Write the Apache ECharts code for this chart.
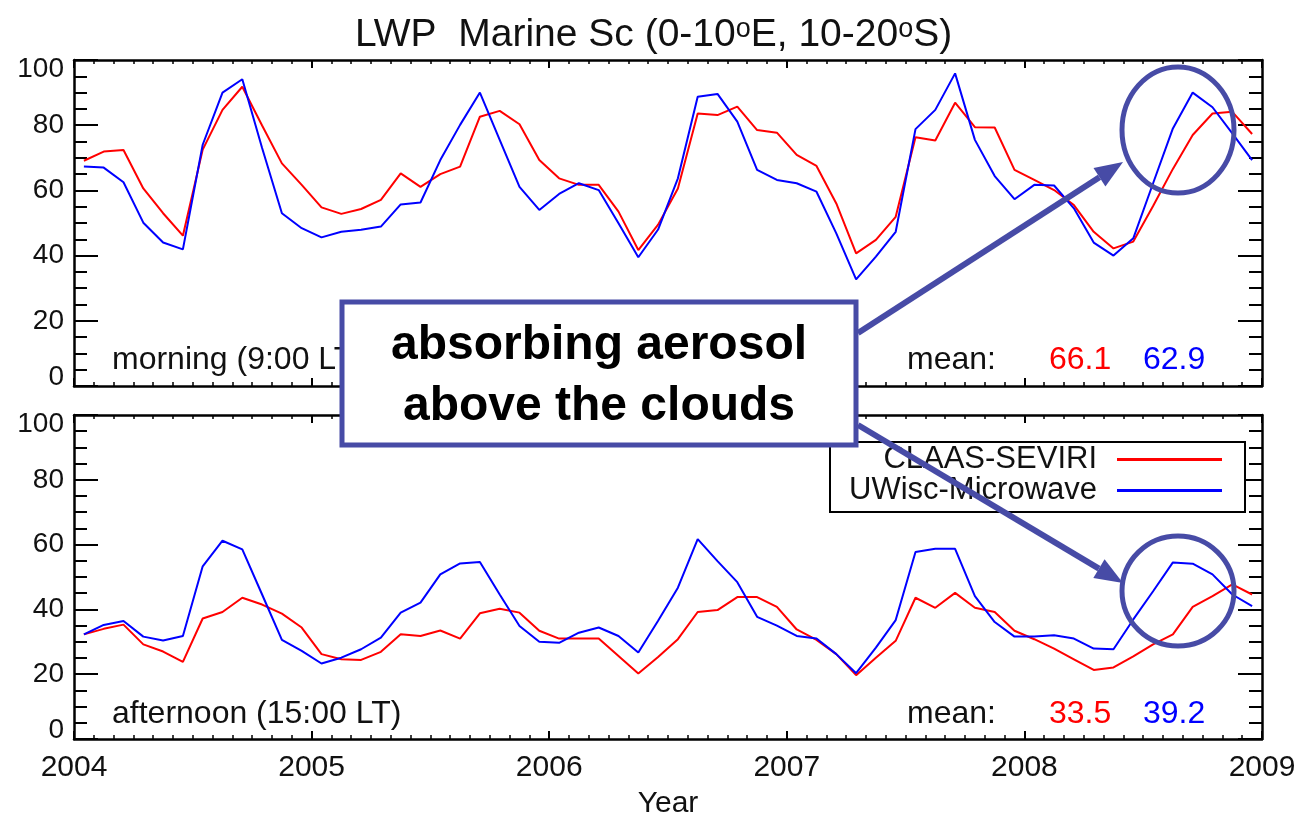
<!DOCTYPE html>
<html>
<head>
<meta charset="utf-8">
<script src="https://cdn.jsdelivr.net/npm/echarts@6/dist/echarts.min.js"></script>
<style>
html,body{margin:0;padding:0;background:#fff;}
#chart{width:1316px;height:820px;}
</style>
</head>
<body>
<div id="chart"></div>
<script>
// ---- data (monthly means, 2004-01 .. 2008-12) ----
const years = [2004, 2005, 2006, 2007, 2008, 2009];
const yTicks = [0, 20, 40, 60, 80, 100];
const seriesNames = ['CLAAS-SEVIRI', 'UWisc-Microwave'];

const morningClaas = [69.1, 71.9, 72.4, 60.6, 53.0, 46.1, 72.5, 84.7, 91.8, 79.9, 68.3, 61.7,
  54.8, 52.8, 54.3, 57.1, 65.2, 61.1, 65.0, 67.3, 82.6, 84.4, 80.3, 69.3,
  63.7, 61.7, 61.7, 53.5, 41.7, 49.5, 60.6, 83.6, 83.1, 85.7, 78.5, 77.7,
  70.9, 67.5, 56.0, 40.7, 44.8, 51.9, 76.3, 75.3, 86.9, 79.4, 79.3, 66.3,
  63.2, 60.1, 55.5, 47.3, 42.2, 44.3, 55.2, 66.6, 77.0, 83.6, 84.1, 77.3];
const morningUWisc = [67.3, 67.0, 62.5, 50.1, 44.0, 41.9, 74.0, 90.0, 94.1, 73.0, 53.0, 48.4,
  45.6, 47.3, 47.9, 48.9, 55.7, 56.3, 69.3, 80.1, 90.0, 75.5, 61.1, 54.0,
  58.9, 62.2, 60.1, 49.9, 39.5, 48.0, 63.7, 88.7, 89.6, 81.1, 66.3, 63.2,
  62.2, 59.6, 46.8, 32.7, 39.7, 47.3, 78.8, 84.7, 95.9, 75.5, 64.4, 57.3,
  61.7, 61.5, 54.5, 44.0, 40.0, 45.3, 62.2, 79.0, 90.0, 85.5, 77.5, 69.3];
const afternoonClaas = [32.3, 34.0, 35.3, 29.2, 27.0, 23.8, 37.2, 39.2, 43.6, 41.5, 38.7, 34.4,
  26.2, 24.6, 24.4, 26.9, 32.3, 31.8, 33.5, 31.0, 38.8, 40.2, 39.0, 33.4,
  31.0, 31.0, 31.0, 25.6, 20.2, 25.3, 30.8, 39.2, 39.8, 43.8, 43.8, 40.8,
  33.8, 30.6, 26.2, 19.7, 25.1, 30.3, 43.6, 40.5, 45.1, 40.5, 39.2, 33.4,
  30.8, 27.9, 24.6, 21.3, 22.1, 25.5, 29.2, 32.3, 40.8, 44.1, 47.7, 44.6];
const afternoonUWisc = [32.3, 35.2, 36.4, 31.6, 30.4, 31.8, 53.3, 61.2, 58.5, 44.6, 30.6, 27.2,
  23.3, 25.1, 27.7, 31.3, 39.0, 42.1, 50.8, 54.2, 54.6, 44.6, 34.9, 30.0,
  29.7, 32.8, 34.4, 31.8, 26.7, 36.5, 46.7, 61.7, 54.9, 48.4, 37.7, 35.0,
  31.8, 31.0, 26.2, 20.3, 28.2, 36.7, 57.7, 58.7, 58.7, 44.1, 36.1, 31.6,
  31.6, 32.0, 31.0, 27.9, 27.7, 36.9, 45.6, 54.5, 54.1, 50.8, 44.6, 41.0];
const means = { morning: ['66.1', '62.9'], afternoon: ['33.5', '39.2'] };
const panelLabels = ['morning (9:00 LT)', 'afternoon (15:00 LT)'];
const annotationLines = ['absorbing aerosol', 'above the clouds'];

// month centres in fractional years
const monthPos = morningClaas.map((_, i) => years[0] + (i + 0.5) / 12);
const pairs = arr => arr.map((v, i) => [monthPos[i], v]);

const FONT = '"Liberation Sans", Arial, Helvetica, sans-serif';
const TXT = '#111';
const RED = '#ff0000', BLUE = '#0000ff', ANN = '#474ba6';

function xAx(grid, pos, labels) {
  return {
    type: 'value', gridIndex: grid, position: pos,
    min: years[0], max: years[years.length - 1], interval: 1,
    axisLine: { show: true, onZero: false, lineStyle: { color: '#000', width: 2.5 } },
    axisTick: { show: true, inside: true, length: 8, lineStyle: { color: '#000', width: 2 } },
    minorTick: { show: true, splitNumber: 12, length: 4, lineStyle: { color: '#000', width: 1.5 } },
    splitLine: { show: false }, minorSplitLine: { show: false },
    axisLabel: { show: labels, fontSize: 30, margin: 14, color: TXT, fontFamily: FONT,
      formatter: v => String(v) },
    name: labels ? 'Year' : '', nameLocation: 'middle', nameGap: 50,
    nameTextStyle: { fontSize: 30, color: TXT, fontFamily: FONT }
  };
}
function yAx(grid, pos, labels) {
  return {
    type: 'value', gridIndex: grid, position: pos,
    min: yTicks[0], max: yTicks[yTicks.length - 1], interval: 20,
    axisLine: { show: true, onZero: false, lineStyle: { color: '#000', width: 2.5 } },
    axisTick: { show: true, inside: true, length: 24, lineStyle: { color: '#000', width: 2 } },
    minorTick: { show: true, splitNumber: 4, length: 13, lineStyle: { color: '#000', width: 2 } },
    splitLine: { show: false }, minorSplitLine: { show: false },
    axisLabel: { show: labels, fontSize: 28, lineHeight: 18, margin: 10, color: TXT, fontFamily: FONT,
      verticalAlignMinLabel: 'bottom', verticalAlignMaxLabel: 'top' }
  };
}
function line(name, data, idx, color) {
  return { name, type: 'line', data: pairs(data), xAxisIndex: idx, yAxisIndex: idx,
    symbol: 'none', lineStyle: { color, width: 2 }, itemStyle: { color }, z: 3 };
}
function arrow(x1, y1, x2, y2) {
  const dx = x2 - x1, dy = y2 - y1, L = Math.hypot(dx, dy);
  const ux = dx / L, uy = dy / L, hl = 28, hw = 11;
  const bx = x2 - hl * ux, by = y2 - hl * uy;
  return [
    { type: 'line', z: 120, shape: { x1, y1, x2: bx, y2: by },
      style: { stroke: ANN, lineWidth: 6 } },
    { type: 'polygon', z: 120, shape: { points: [[x2, y2], [bx - hw * uy, by + hw * ux], [bx + hw * uy, by - hw * ux]] },
      style: { fill: ANN } }
  ];
}
function txt(x, y, text, color, align, size, weight) {
  return { type: 'text', z: 50, x, y,
    style: { text, fill: color, font: (weight || 'normal') + ' ' + (size || 32) + 'px ' + FONT,
      textAlign: align || 'left', textVerticalAlign: 'middle' } };
}

const chart = echarts.init(document.getElementById('chart'));
chart.setOption({
  animation: false,
  backgroundColor: '#fff',
  title: {
    text: 'LWP  Marine Sc (0-10{s|o}E, 10-20{s|o}S)',
    left: 350, top: 11,
    textStyle: { fontSize: 39, fontWeight: 'normal', color: TXT, fontFamily: FONT,
      rich: { s: { fontSize: 27, verticalAlign: 'top', color: TXT, fontFamily: FONT } } }
  },
  grid: [
    { left: 74, right: 54, top: 60, height: 326 },
    { left: 74, right: 54, top: 415, height: 325 }
  ],
  xAxis: [xAx(0, 'bottom', false), xAx(0, 'top', false), xAx(1, 'bottom', true), xAx(1, 'top', false)],
  yAxis: [yAx(0, 'left', true), yAx(0, 'right', false), yAx(1, 'left', true), yAx(1, 'right', false)],
  legend: {
    data: seriesNames, orient: 'vertical', left: 830, top: 442, align: 'right',
    icon: 'rect', itemWidth: 105, itemHeight: 3, itemGap: 0, selectedMode: false,
    padding: [2, 23, 6, 10], borderColor: '#000', borderWidth: 2, backgroundColor: '#fff',
    textStyle: { fontSize: 31, color: TXT, fontFamily: FONT, width: 257, align: 'right',
      lineHeight: 28, padding: [0, 15, 0, 0] }
  },
  series: [
    line(seriesNames[0], morningClaas, 0, RED),
    line(seriesNames[1], morningUWisc, 0, BLUE),
    line(seriesNames[0], afternoonClaas, 2, RED),
    line(seriesNames[1], afternoonUWisc, 2, BLUE)
  ],
  graphic: [
    txt(112, 360, panelLabels[0], TXT),
    txt(112, 714, panelLabels[1], TXT),
    txt(996, 360, 'mean:', TXT, 'right'),
    txt(1049, 360, means.morning[0], RED),
    txt(1143, 360, means.morning[1], BLUE),
    txt(996, 714, 'mean:', TXT, 'right'),
    txt(1049, 714, means.afternoon[0], RED),
    txt(1143, 714, means.afternoon[1], BLUE),
    { type: 'rect', z: 100, shape: { x: 342, y: 302, width: 514, height: 143 },
      style: { fill: '#fff', stroke: ANN, lineWidth: 5 } },
    { type: 'text', z: 101, x: 599, y: 346,
      style: { text: annotationLines[0], fill: '#000', font: 'bold 48px ' + FONT, textAlign: 'center', textVerticalAlign: 'middle' } },
    { type: 'text', z: 101, x: 599, y: 407,
      style: { text: annotationLines[1], fill: '#000', font: 'bold 48px ' + FONT, textAlign: 'center', textVerticalAlign: 'middle' } },
    { type: 'ellipse', z: 110, shape: { cx: 1178, cy: 130, rx: 56, ry: 63 },
      style: { fill: 'none', stroke: ANN, lineWidth: 5 } },
    { type: 'ellipse', z: 110, shape: { cx: 1178, cy: 591, rx: 56, ry: 55 },
      style: { fill: 'none', stroke: ANN, lineWidth: 5 } },
    ...arrow(858, 333, 1123, 162),
    ...arrow(858, 425, 1123, 583)
  ]
});
</script>
</body>
</html>
